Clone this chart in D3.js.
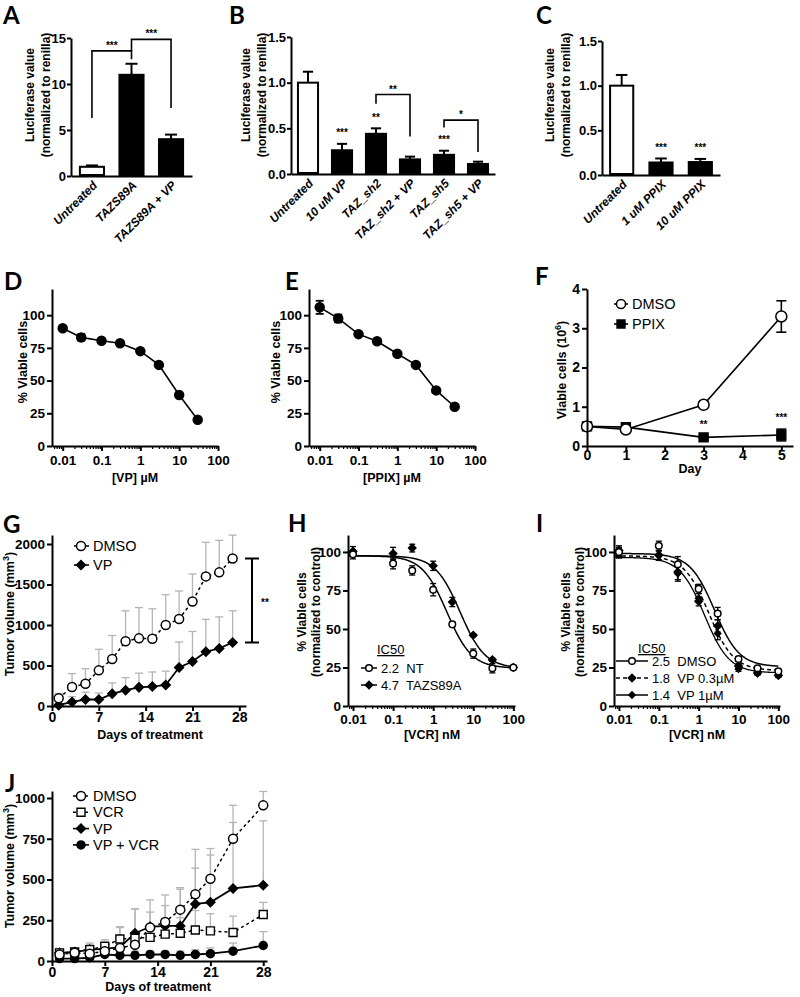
<!DOCTYPE html>
<html>
<head>
<meta charset="utf-8">
<script src="https://cdn.jsdelivr.net/npm/d3@7"></script>
<style>
  body { margin: 0; background: #fff; }
  svg { font-family: "Liberation Sans", Arial, sans-serif; }
  .axis path, .axis line { stroke: #000; stroke-width: 2; }
  .axis text { font-weight: bold; fill: #000; font-family: "Liberation Sans", Arial, sans-serif; }
  .title { font-weight: bold; font-size: 12px; }
  .letter { font-family: Lato, "Open Sans", sans-serif; font-weight: bold; font-size: 24px; }
  .legend { font-size: 13.5px; }
  .stars { font-weight: bold; font-size: 10px; fill: #000; }
</style>
</head>
<body>
<svg id="fig" width="800" height="997"></svg>
<script>
// ---- data ----
// A: luciferase, TAZ S89A
const aLabels = ["Untreated", "TAZS89A", "TAZS89A + VP"];
const aValues = [1.0, 11.0, 4.0];
const aErrors = [0.15, 1.2, 0.5];
const aTicks = [0, 5, 10, 15];

// B: luciferase, TAZ knockdown
const bLabels = ["Untreated", "10 uM VP", "TAZ_sh2", "TAZ_sh2 + VP", "TAZ_sh5", "TAZ_sh5 + VP"];
const bValues = [1.0, 0.26, 0.44, 0.16, 0.21, 0.11];
const bErrors = [0.12, 0.07, 0.06, 0.03, 0.045, 0.025];
const bStars = ["", "***", "**", "", "***", ""];

// C: luciferase, PPIX
const cLabels = ["Untreated", "1 uM PPIX", "10 uM PPIX"];
const cValues = [1.0, 0.14, 0.145];
const cErrors = [0.12, 0.045, 0.035];
const cStars = ["", "***", "***"];
const bcTicks = [0, 0.5, 1.0, 1.5];

// D / E: dose response
const doses = [0.01, 0.03, 0.1, 0.3, 1, 3, 10, 30];
const dViable = [90, 83, 80.5, 78.5, 72.5, 62, 39, 20];
const dErrors = [0, 2.5, 0, 0, 0, 0, 0, 0];
const eViable = [106, 97.5, 85.5, 80, 70.5, 62, 42.5, 30];
const eErrors = [5, 3, 0, 0, 0, 0, 0, 0];
const pctTicks = [0, 25, 50, 75, 100];
const logTicks = [0.01, 0.1, 1, 10, 100];

// F: growth
const fDays = [0, 1, 3, 5];
const fDMSO = [0.5, 0.42, 1.05, 3.3];
const fDMSOErr = [0.03, 0.03, 0.07, 0.4];
const fPPIX = [0.5, 0.48, 0.22, 0.28];
const fPPIXErr = [0.02, 0.03, 0.03, 0.15];
const fStars = ["", "", "**", "***"];

// G: xenograft VP
const gDays = [1, 3, 5, 7, 9, 11, 13, 15, 17, 19, 21, 23, 25, 27];
const gDMSO = [95, 235, 275, 440, 580, 800, 835, 830, 1000, 1075, 1290, 1600, 1650, 1820];
const gDMSOUp = [155, 400, 460, 700, 870, 1175, 1215, 1200, 1375, 1420, 1630, 2020, 2045, 2110];
const gVP = [10, 50, 80, 80, 150, 195, 230, 240, 260, 475, 550, 670, 710, 785];
const gVPUp = [35, 115, 170, 160, 285, 350, 405, 420, 430, 790, 920, 1070, 1100, 1175];

// H: VCR response, NT vs TAZS89A
const vcrDoses = [0.01, 0.1, 0.3, 1, 3, 10, 30, 100];
const hNT = [98.5, 92.5, 88, 75.5, 53, 34, 24.5, 25];
const hNTErr = [3, 3.5, 3, 4, 1.5, 3, 3, 1];
const hTAZ = [100.5, 99, 102.5, 91, 67.5, 46, 30, 25];
const hTAZErr = [3, 4, 2.5, 3, 3, 1, 1, 1];
const hIC50 = [2.2, 4.7];
const hLegend = ["2.2  NT", "4.7  TAZS89A"];

// I: VCR response with VP
const iDMSO = [100, 104, 92, 76, 60, 30.5, 24.5, 22.5];
const iVP03 = [101, 98, 87, 68, 52, 26, 21.5, 20];
const iVP1 = [99, 97.5, 86, 70, 47, 24, 21, 19.5];
const iErr = [3, 3, 5, 3, 4, 1.5, 1, 1];
const iIC50 = [2.5, 1.8, 1.4];
const iLegend = ["2.5  DMSO", "1.8  VP 0.3\u00b5M", "1.4  VP 1\u00b5M"];

// J: xenograft combination
const jDays = [1, 3, 5, 7, 9, 11, 13, 15, 17, 19, 21, 24, 28];
const jDMSO = [40, 50, 45, 60, 80, 100, 205, 240, 315, 410, 505, 750, 955];
const jDMSOUp = [75, 80, 110, 120, 205, 320, 375, 405, 450, 685, 690, 955, 1040];
const jVCR = [50, 55, 70, 90, 135, 140, 145, 165, 170, 190, 185, 175, 285];
const jVCRUp = [70, 70, 85, 115, 210, 170, 210, 260, 265, 310, 290, 275, 360];
const jVP = [50, 55, 70, 75, 85, 170, 210, 215, 215, 350, 360, 445, 465];
const jVPUp = [70, 75, 100, 130, 150, 320, 300, 340, 440, 570, 650, 850, 860];
const jCombo = [15, 15, 20, 40, 35, 35, 40, 40, 35, 40, 45, 60, 95];
const jComboUp = [30, 30, 40, 60, 60, 60, 60, 60, 60, 70, 80, 110, 180];

// ---- drawing ----
const svg = d3.select("#fig");
const grey = "#b4b4b4";

function letter(t, x, y) {
  svg.append("text").attr("class", "letter").attr("x", x).attr("y", y).text(t);
}

function yTitle(lines, xs, yc, size) {
  lines.forEach((t, i) => {
    const el = svg.append("text").attr("class", "title")
      .attr("transform", `translate(${xs[i]},${yc}) rotate(-90)`)
      .attr("text-anchor", "middle");
    if (size) el.style("font-size", size + "px");
    if (Array.isArray(t)) {
      el.append("tspan").text(t[0]);
      el.append("tspan").attr("dy", -5).style("font-size", "9px").text(t[1]);
      el.append("tspan").attr("dy", 5).text(t[2]);
    } else el.text(t);
  });
}

function xTitle(t, x, y, size) {
  const el = svg.append("text").attr("class", "title").attr("x", x).attr("y", y)
    .attr("text-anchor", "middle").text(t);
  if (size) el.style("font-size", size + "px");
}

function leftAxis(y, x0, ticks, fmt, size, tick, gap) {
  svg.append("g").attr("class", "axis").attr("transform", `translate(${x0},0)`)
    .call(d3.axisLeft(y).tickValues(ticks).tickFormat(fmt).tickSize(tick || 5).tickSizeOuter(0))
    .call(g => g.selectAll("text").style("font-size", size + "px").attr("x", -(gap || 7)));
}

function bottomAxis(x, y0, ticks, fmt, size, labelDy) {
  return svg.append("g").attr("class", "axis").attr("transform", `translate(0,${y0})`)
    .call(d3.axisBottom(x).tickValues(ticks).tickFormat(fmt).tickSize(5).tickSizeOuter(0))
    .call(g => g.selectAll("text").style("font-size", size + "px").attr("y", labelDy || 9));
}

function minorLogTicks(x, y0) {
  const [lo, hi] = x.domain();
  const minor = [];
  [0.001, 0.01, 0.1, 1, 10].forEach(b => d3.range(2, 10).forEach(m => minor.push(b * m)));
  svg.append("g").attr("class", "axis").attr("transform", `translate(0,${y0})`)
    .call(d3.axisBottom(x).tickValues(minor.filter(v => v >= lo && v <= hi)).tickSize(3).tickFormat(""))
    .call(g => g.select(".domain").remove())
    .call(g => g.selectAll("line").style("stroke-width", 1.2));
}

function line(x, y, xs, ys, dash, width) {
  svg.append("path")
    .attr("d", d3.line().x((d, i) => x(xs[i])).y(d => y(d))(ys))
    .attr("fill", "none").attr("stroke", "#000")
    .attr("stroke-width", width || 1.6)
    .attr("stroke-dasharray", dash || null);
}

function markers(x, y, xs, ys, type, size) {
  ys.forEach((v, i) => {
    const cx = x(xs[i]), cy = y(v);
    if (type === "circleOpen" || type === "circle") {
      svg.append("circle").attr("cx", cx).attr("cy", cy).attr("r", size)
        .attr("fill", type === "circle" ? "#000" : "#fff")
        .attr("stroke", "#000").attr("stroke-width", 1.5);
    } else {
      // squares, and diamonds as squares turned 45 degrees
      const isDiamond = type.startsWith("diamond");
      const side = isDiamond ? size * 1.6 : size * 2;
      svg.append("path")
        .attr("transform", `translate(${cx},${cy})${isDiamond ? " rotate(45)" : ""}`)
        .attr("d", d3.symbol(d3.symbolSquare, side * side)())
        .attr("fill", type.endsWith("Open") ? "#fff" : "#000")
        .attr("stroke", "#000").attr("stroke-width", 1.4);
    }
  });
}

function errBars(x, y, xs, ys, up, down, color, cap, width) {
  ys.forEach((v, i) => {
    const cx = x(xs[i]);
    const hi = up[i] == null ? v : up[i];
    const lo = down ? down[i] : v;
    if (hi === v && lo === v) return;
    svg.append("line").attr("x1", cx).attr("x2", cx).attr("y1", y(lo)).attr("y2", y(hi))
      .attr("stroke", color).attr("stroke-width", width || 1.5);
    [hi, lo].forEach(e => {
      if (e === v) return;
      svg.append("line").attr("x1", cx - cap).attr("x2", cx + cap).attr("y1", y(e)).attr("y2", y(e))
        .attr("stroke", color).attr("stroke-width", width || 1.5);
    });
  });
}

function stars(t, x, y) {
  svg.append("text").attr("class", "stars").attr("x", x).attr("y", y)
    .attr("text-anchor", "middle").text(t);
}

function bracket(x1, x2, yTop, yEnd1, yEnd2, label) {
  svg.append("path").attr("d", `M${x1},${yEnd1}V${yTop}H${x2}V${yEnd2}`)
    .attr("fill", "none").attr("stroke", "#000").attr("stroke-width", 1.6);
  stars(label, (x1 + x2) / 2, yTop - 2);
}

// bar chart panels A, B, C
function barPanel(o) {
  const x = d3.scaleBand().domain(o.labels).range([o.x0, o.x1])
    .paddingInner(o.pad).paddingOuter(o.outer);
  const y = d3.scaleLinear().domain([0, o.ticks[o.ticks.length - 1]]).range([o.y0, o.y1]);
  const bw = x.bandwidth();
  o.labels.forEach((lab, i) => {
    const cx = x(lab) + bw / 2;
    svg.append("line").attr("x1", cx).attr("x2", cx)
      .attr("y1", y(o.values[i])).attr("y2", y(o.values[i] + o.errors[i]))
      .attr("stroke", "#000").attr("stroke-width", 2);
    svg.append("line").attr("x1", cx - bw * 0.23).attr("x2", cx + bw * 0.23)
      .attr("y1", y(o.values[i] + o.errors[i])).attr("y2", y(o.values[i] + o.errors[i]))
      .attr("stroke", "#000").attr("stroke-width", 2);
    svg.append("rect").attr("x", x(lab) + 1).attr("width", bw - 2)
      .attr("y", y(o.values[i])).attr("height", y(0) - y(o.values[i]) - 1)
      .attr("fill", i === 0 ? "#fff" : "#000").attr("stroke", "#000").attr("stroke-width", 2);
    if (o.stars && o.stars[i]) stars(o.stars[i], cx, y(o.values[i] + o.errors[i]) - 7.5);
  });
  leftAxis(y, o.x0, o.ticks, o.fmt, 13, 4, 5);
  svg.append("g").attr("class", "axis").attr("transform", `translate(0,${o.y0})`)
    .call(d3.axisBottom(x).tickSize(0).tickSizeOuter(0))
    .call(g => g.selectAll("text")
      .style("font-size", "12px").style("font-style", "italic")
      .attr("text-anchor", "end").attr("y", 0).attr("dy", 0)
      .attr("transform", "translate(6,10) rotate(-45)"));
  yTitle(["Luciferase value", "(normalized to renilla)"], [o.tx, o.tx + 16], 95, 12);
  return { x, y, bw };
}

// ---- Panel A ----
letter("A", 3, 24);
const pa = barPanel({ labels: aLabels, values: aValues, errors: aErrors, ticks: aTicks, fmt: d3.format("d"),
  x0: 71, x1: 192, y0: 176, y1: 38, pad: 0.34, outer: 0.2, tx: 34 });
const ac = aLabels.map(l => pa.x(l) + pa.bw / 2);
bracket(ac[0], ac[1], pa.y(13.6), pa.y(6.3), pa.y(12.7), "***");
bracket(ac[1], ac[2], pa.y(14.85), pa.y(13.6), pa.y(7.4), "***");

// ---- Panel B ----
letter("B", 229, 24);
const pb = barPanel({ labels: bLabels, values: bValues, errors: bErrors, stars: bStars, ticks: bcTicks,
  fmt: d3.format(".1f"), x0: 291, x1: 495, y0: 174, y1: 37, pad: 0.35, outer: 0.175, tx: 250 });
const bc = bLabels.map(l => pb.x(l) + pb.bw / 2);
bracket(bc[2], bc[3], pb.y(0.87), pb.y(0.77), pb.y(0.41), "**");
bracket(bc[4], bc[5], pb.y(0.59), pb.y(0.51), pb.y(0.24), "*");

// ---- Panel C ----
letter("C", 536, 24);
barPanel({ labels: cLabels, values: cValues, errors: cErrors, stars: cStars, ticks: bcTicks,
  fmt: d3.format(".1f"), x0: 602, x1: 720, y0: 175, y1: 41, pad: 0.36, outer: 0.18, tx: 554 });

// ---- Panels D, E ----
function dosePanel(o) {
  const x = d3.scaleLog().domain([0.0053, 100]).range([o.x0, o.x1]);
  const y = d3.scaleLinear().domain([0, 120]).range([446, 289]);
  errBars(x, y, doses, o.values, o.values.map((v, i) => v + o.errors[i]),
    o.values.map((v, i) => v - o.errors[i]), "#000", 4, 1.8);
  line(x, y, doses, o.values, null, 1.6);
  markers(x, y, doses, o.values, "circle", 4.5);
  leftAxis(y, o.x0, pctTicks, d3.format("d"), 13.5);
  minorLogTicks(x, 446);
  bottomAxis(x, 446, logTicks, d3.format("~g"), 13.5, 9);
  yTitle(["% Viable cells"], [o.tx], 362, 12.5);
  xTitle(o.xlabel, (o.x0 + o.x1) / 2, 482, 12.5);
}
letter("D", 4, 290);
dosePanel({ values: dViable, errors: dErrors, x0: 52, x1: 218, tx: 27, xlabel: "[VP] \u00b5M" });
letter("E", 285, 290);
dosePanel({ values: eViable, errors: eErrors, x0: 309, x1: 475, tx: 280, xlabel: "[PPIX] \u00b5M" });

// ---- Panel F ----
letter("F", 535, 285);
{
  const x = d3.scaleLinear().domain([0, 5.3]).range([587, 793]);
  const y = d3.scaleLinear().domain([0, 4]).range([446, 289]);
  errBars(x, y, fDays, fDMSO, fDMSO.map((v, i) => v + fDMSOErr[i]), fDMSO.map((v, i) => v - fDMSOErr[i]), "#000", 5, 1.6);
  errBars(x, y, fDays, fPPIX, fPPIX.map((v, i) => v + fPPIXErr[i]), fPPIX.map((v, i) => v - fPPIXErr[i]), "#000", 5, 1.6);
  line(x, y, fDays, fDMSO);
  line(x, y, fDays, fPPIX);
  markers(x, y, fDays, fPPIX, "square", 4.5);
  markers(x, y, fDays, fDMSO, "circleOpen", 5.5);
  fDays.forEach((d, i) => { if (fStars[i]) stars(fStars[i], x(d), y(fPPIX[i] + fPPIXErr[i]) - 8); });
  leftAxis(y, 587, [0, 1, 2, 3, 4], d3.format("d"), 14);
  bottomAxis(x, 446, [0, 1, 2, 3, 4, 5], d3.format("d"), 14, 4);
  yTitle([["Viable cells (10", "6", ")"]], [566, 0], 370, 12.5);
  xTitle("Day", 690, 473, 12.5);
  // legend
  [["DMSO", "circleOpen"], ["PPIX", "square"]].forEach(([t, m], i) => {
    const ly = 304 + i * 20;
    svg.append("line").attr("x1", 614).attr("x2", 628).attr("y1", ly).attr("y2", ly)
      .attr("stroke", "#000").attr("stroke-width", 1.6);
    markers(d => d, d => d, [621], [ly], m, m === "square" ? 4 : 4.5);
    svg.append("text").attr("class", "legend").attr("x", 632).attr("y", ly + 5)
      .style("font-size", "14.5px").text(t);
  });
}

// ---- Panel G ----
letter("G", 3, 533);
{
  const x = d3.scaleLinear().domain([0, 29]).range([52, 246]);
  const y = d3.scaleLinear().domain([0, 2000]).range([706, 544]);
  errBars(x, y, gDays, gDMSO, gDMSOUp, null, grey, 4, 1.3);
  errBars(x, y, gDays, gVP, gVPUp, null, grey, 4, 1.3);
  line(x, y, gDays, gDMSO, "3,3", 1.5);
  line(x, y, gDays, gVP, null, 1.8);
  markers(x, y, gDays, gVP, "diamond", 4);
  markers(x, y, gDays, gDMSO, "circleOpen", 4.5);
  svg.append("g").attr("class", "axis").attr("transform", "translate(52,0)")
    .call(d3.axisLeft(y.copy().domain([0, 2111]).range([706, 535])).tickValues([0, 500, 1000, 1500, 2000])
      .tickFormat(d3.format("d")).tickSize(5).tickSizeOuter(0))
    .call(g => g.selectAll("text").style("font-size", "13.5px").attr("x", -7));
  bottomAxis(x, 706, [0, 7, 14, 21, 28], d3.format("d"), 14, 6);
  yTitle([["Tumor  volume (mm", "3", ")"]], [14], 614, 12.5);
  xTitle("Days of treatment", 150, 739, 12.5);
  // significance bracket
  const last = gDays.length - 1;
  svg.append("path")
    .attr("d", `M245,${y(gDMSO[last])}H259M252,${y(gDMSO[last])}V${y(gVP[last])}M245,${y(gVP[last])}H259`)
    .attr("stroke", "#000").attr("stroke-width", 2).attr("fill", "none");
  stars("**", 265, 606);
  [["DMSO", "circleOpen", "3,3"], ["VP", "diamond", null]].forEach(([t, m, dash], i) => {
    const ly = 546 + i * 19;
    svg.append("line").attr("x1", 74).attr("x2", 89).attr("y1", ly).attr("y2", ly)
      .attr("stroke", "#000").attr("stroke-width", 1.6).attr("stroke-dasharray", dash);
    markers(d => d, d => d, [81], [ly], m, m === "diamond" ? 4 : 4.5);
    svg.append("text").attr("class", "legend").attr("x", 93).attr("y", ly + 5)
      .style("font-size", "14.5px").text(t);
  });
}

// ---- Panels H, I ----
function fourPL(top, bottom, ic50, hill) {
  return v => bottom + (top - bottom) / (1 + Math.pow(v / ic50, hill));
}
const curveX = d3.range(-2.1, 2.02, 0.02).map(e => Math.pow(10, e));

function vcrAxes(x0, x1) {
  const x = d3.scaleLog().domain([0.0075, 110]).range([x0, x1]);
  const y = d3.scaleLinear().domain([0, 111]).range([706, 535]);
  leftAxis(y, x0, pctTicks, d3.format("d"), 13.5);
  minorLogTicks(x, 706);
  bottomAxis(x, 706, logTicks, d3.format("~g"), 13.5, 8);
  return { x, y };
}

letter("H", 288, 532);
{
  const { x, y } = vcrAxes(348, 515);
  const curves = [fourPL(97.5, 24.5, hIC50[0], 1.4), fourPL(97.5, 24.5, hIC50[1], 1.4)];
  curves.forEach(f => line(x, y, curveX, curveX.map(f), null, 1.5));
  errBars(x, y, vcrDoses, hNT, hNT.map((v, i) => v + hNTErr[i]), hNT.map((v, i) => v - hNTErr[i]), "#000", 3, 1.3);
  errBars(x, y, vcrDoses, hTAZ, hTAZ.map((v, i) => v + hTAZErr[i]), hTAZ.map((v, i) => v - hTAZErr[i]), "#000", 3, 1.3);
  markers(x, y, vcrDoses, hTAZ, "diamond", 3.3);
  markers(x, y, vcrDoses, hNT, "circleOpen", 3.3);
  yTitle(["% Viable cells", "(normalized to control)"], [306, 320], 612, 12);
  xTitle("[VCR] nM", 432, 739, 12.5);
  svg.append("text").attr("class", "legend").attr("x", 377).attr("y", 654)
    .style("text-decoration", "underline").style("font-size", "13px").text("IC50");
  [["circleOpen"], ["diamond"]].forEach(([m], i) => {
    const ly = 668 + i * 17;
    svg.append("line").attr("x1", 361).attr("x2", 377).attr("y1", ly).attr("y2", ly)
      .attr("stroke", "#000").attr("stroke-width", 1.5);
    markers(d => d, d => d, [369], [ly], m, 3.3);
    svg.append("text").attr("class", "legend").attr("x", 381).attr("y", ly + 5)
      .style("font-size", "13px").style("white-space", "pre").text(hLegend[i]);
  });
}

letter("I", 536, 532);
{
  const { x, y } = vcrAxes(614, 780);
  const fits = [fourPL(99, 25.5, iIC50[0], 1.4), fourPL(97.5, 23, iIC50[1], 1.4), fourPL(96.5, 21.5, iIC50[2], 1.4)];
  const dashes = [null, "4,3", null];
  fits.forEach((f, k) => line(x, y, curveX, curveX.map(f), dashes[k], k === 2 ? 1.3 : 1.5));
  [iDMSO, iVP03, iVP1].forEach(s =>
    errBars(x, y, vcrDoses, s, s.map((v, i) => v + iErr[i]), s.map((v, i) => v - iErr[i]), "#000", 3, 1.3));
  markers(x, y, vcrDoses, iVP1, "diamond", 2.8);
  markers(x, y, vcrDoses, iVP03, "diamond", 3.3);
  markers(x, y, vcrDoses, iDMSO, "circleOpen", 3.3);
  yTitle(["% Viable cells", "(normalized to control)"], [570, 584], 612, 12);
  xTitle("[VCR] nM", 697, 739, 12.5);
  svg.append("text").attr("class", "legend").attr("x", 638).attr("y", 653)
    .style("text-decoration", "underline").style("font-size", "13px").text("IC50");
  [["circleOpen", null, 3.3], ["diamond", "4,3", 3.3], ["diamond", null, 2.8]].forEach(([m, dash, s], i) => {
    const ly = 661 + i * 17;
    svg.append("line").attr("x1", 616).attr("x2", 648).attr("y1", ly).attr("y2", ly)
      .attr("stroke", "#000").attr("stroke-width", 1.5).attr("stroke-dasharray", dash);
    markers(d => d, d => d, [632], [ly], m, s);
    svg.append("text").attr("class", "legend").attr("x", 652).attr("y", ly + 5)
      .style("font-size", "13px").style("white-space", "pre").text(iLegend[i]);
  });
}

// ---- Panel J ----
letter("J", 5, 792);
{
  const x = d3.scaleLinear().domain([0, 28.5]).range([52, 267]);
  const y = d3.scaleLinear().domain([0, 1043]).range([961, 791]);
  [[jDMSO, jDMSOUp], [jVCR, jVCRUp], [jVP, jVPUp], [jCombo, jComboUp]]
    .forEach(([s, u]) => errBars(x, y, jDays, s, u, null, grey, 4, 1.3));
  line(x, y, jDays, jDMSO, "3,3", 1.5);
  line(x, y, jDays, jVCR, "3,3", 1.5);
  line(x, y, jDays, jVP, null, 1.8);
  line(x, y, jDays, jCombo, null, 1.8);
  markers(x, y, jDays, jCombo, "circle", 4);
  markers(x, y, jDays, jVP, "diamond", 4);
  markers(x, y, jDays, jVCR, "squareOpen", 4);
  markers(x, y, jDays, jDMSO, "circleOpen", 4.5);
  leftAxis(y, 52, [0, 250, 500, 750, 1000], d3.format("d"), 13.5);
  bottomAxis(x, 961, [0, 7, 14, 21, 28], d3.format("d"), 14, 6);
  yTitle([["Tumor  volume (mm", "3", ")"]], [14], 866, 12.5);
  xTitle("Days of treatment", 158, 991, 12.5);
  [["DMSO", "circleOpen", "3,3"], ["VCR", "squareOpen", "3,3"], ["VP", "diamond", null], ["VP + VCR", "circle", null]]
    .forEach(([t, m, dash], i) => {
      const ly = 796 + i * 16.3;
      svg.append("line").attr("x1", 73).attr("x2", 89).attr("y1", ly).attr("y2", ly)
        .attr("stroke", "#000").attr("stroke-width", 1.6).attr("stroke-dasharray", dash);
      markers(d => d, d => d, [81], [ly], m, m === "circleOpen" ? 4.5 : 4);
      svg.append("text").attr("class", "legend").attr("x", 93).attr("y", ly + 5)
        .style("font-size", "14.5px").text(t);
    });
}
</script>
</body>
</html>
